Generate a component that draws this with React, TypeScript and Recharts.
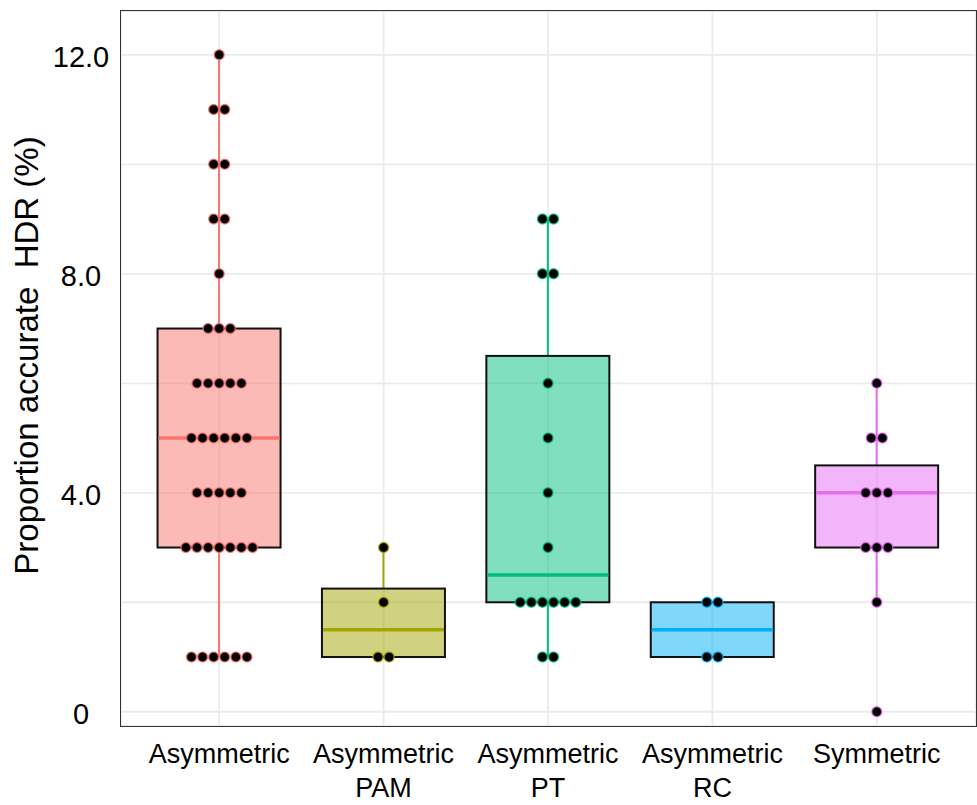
import { ComposedChart, Bar, Scatter, XAxis, YAxis, CartesianGrid } from 'recharts'

const CATEGORIES = ['Asymmetric', 'Asymmetric PAM', 'Asymmetric PT', 'Asymmetric RC', 'Symmetric']
const COLORS = ['#F8766D', '#A3A500', '#00BF7D', '#00B0F6', '#E76BF3']

// box statistics per category
const Q1 = [3, 1, 2, 1, 3]
const MEDIAN = [5, 1.5, 2.5, 1.5, 4]
const Q3 = [7, 2.25, 6.5, 2, 4.5]
const WHISKER_LOW = [1, 1, 1, 1, 2]
const WHISKER_HIGH = [12, 3, 9, 2, 6]

// raw observations (one entry per dot)
const ASYMMETRIC = [
  1, 1, 1, 1, 1, 1,
  3, 3, 3, 3, 3, 3, 3,
  4, 4, 4, 4, 4,
  5, 5, 5, 5, 5, 5,
  6, 6, 6, 6, 6,
  7, 7, 7,
  8, 9, 9, 10, 10, 11, 11, 12,
]
const ASYMMETRIC_PAM = [1, 1, 2, 3]
const ASYMMETRIC_PT = [1, 1, 2, 2, 2, 2, 2, 2, 3, 4, 5, 6, 8, 8, 9, 9]
const ASYMMETRIC_RC = [1, 1, 2, 2]
const SYMMETRIC = [0, 2, 3, 3, 3, 4, 4, 4, 5, 5, 6]
const OBSERVATIONS = [ASYMMETRIC, ASYMMETRIC_PAM, ASYMMETRIC_PT, ASYMMETRIC_RC, SYMMETRIC]

const Y_TICKS = [0, 2, 4, 6, 8, 10, 12]
const Y_LABELLED = [0, 4, 8, 12]

const FONT = '"Liberation Sans", Arial, Helvetica, sans-serif'
const DOT_STEP = 11.1

const boxes = CATEGORIES.map((name, i) => ({
  name,
  lo: WHISKER_LOW[i],
  hi: WHISKER_HIGH[i],
  q1: Q1[i],
  q3: Q3[i],
  median: MEDIAN[i],
  color: COLORS[i],
}))

// stack equal values side by side, centred on the category
const points = OBSERVATIONS.flatMap((vals, i) => {
  const counts = new Map<number, number>()
  vals.forEach((v) => counts.set(v, (counts.get(v) ?? 0) + 1))
  const seen = new Map<number, number>()
  return vals.map((v) => {
    const k = seen.get(v) ?? 0
    seen.set(v, k + 1)
    const n = counts.get(v) as number
    return { name: CATEGORIES[i], value: v, slot: k - (n - 1) / 2, color: COLORS[i] }
  })
})

const BoxShape = (props: any) => {
  const { x, y, width, height, payload } = props
  const { lo, hi, q1, q3, median, color } = payload
  const px = (v: number) => y + ((hi - v) * height) / (hi - lo)
  const cx = x + width / 2
  return (
    <g>
      <line x1={cx} x2={cx} y1={px(hi)} y2={px(q3)} stroke={color} strokeWidth={2} />
      <line x1={cx} x2={cx} y1={px(q1)} y2={px(lo)} stroke={color} strokeWidth={2} />
      <rect
        x={x}
        y={px(q3)}
        width={width}
        height={px(q1) - px(q3)}
        fill={color}
        fillOpacity={0.5}
        stroke="#111"
        strokeWidth={2}
      />
      <line x1={x + 1} x2={x + width - 1} y1={px(median)} y2={px(median)} stroke={color} strokeWidth={3.5} />
    </g>
  )
}

const DotShape = (props: any) => {
  const { cx, cy, payload } = props
  return (
    <circle
      cx={cx + payload.slot * DOT_STEP}
      cy={cy}
      r={5}
      fill="#000"
      stroke={payload.color}
      strokeOpacity={0.75}
      strokeWidth={1.5}
    />
  )
}

const XTick = ({ x, y, payload }: any) => {
  const lines = String(payload.value).split(' ')
  return (
    <text x={x} y={y} textAnchor="middle" fontFamily={FONT} fontSize={27} fill="#000">
      {lines.map((line, i) => (
        <tspan key={i} x={x} dy={i === 0 ? 37 : 34}>
          {line}
        </tspan>
      ))}
    </text>
  )
}

const YTick = ({ x, y, payload }: any) => {
  if (!Y_LABELLED.includes(payload.value)) return null
  return (
    <text x={x - 40} y={y} dy={12} textAnchor="middle" fontFamily={FONT} fontSize={29} fill="#000">
      {payload.value === 0 ? '0' : payload.value.toFixed(1)}
    </text>
  )
}

export default function App() {
  return (
    <div style={{ position: 'absolute', left: 0, top: 0, width: 977, height: 805, background: '#fff' }}>
      <ComposedChart width={977} height={805} data={boxes} margin={{ top: 11, right: 1, bottom: 0, left: 0 }} barCategoryGap="12.5%">
        <CartesianGrid stroke="#ebebeb" strokeWidth={1.8} />
        <XAxis
          dataKey="name"
          type="category"
          allowDuplicatedCategory={false}
          padding={{ left: 16, right: 17 }}
          height={79}
          tickLine={false}
          axisLine={false}
          tickSize={0}
          tickMargin={0}
          interval={0}
          tick={<XTick />}
        />
        <YAxis
          type="number"
          domain={[-0.26, 12.8]}
          ticks={Y_TICKS}
          width={121}
          tickLine={false}
          axisLine={false}
          tickSize={0}
          tickMargin={0}
          tick={<YTick />}
          label={{
            value: 'Proportion accurate\u00a0 HDR (%)',
            angle: -90,
            position: 'center',
            dx: -34,
            dy: -13,
            style: { fontFamily: FONT, fontSize: 33, fill: '#000' },
          }}
        />
        <Bar dataKey={(d: any) => [d.lo, d.hi]} shape={<BoxShape />} isAnimationActive={false} />
        <Scatter data={points} dataKey="value" shape={<DotShape />} isAnimationActive={false} />
      </ComposedChart>
      <div
        style={{
          position: 'absolute',
          left: 120,
          top: 10,
          width: 855,
          height: 715,
          border: '1.5px solid #333',
          pointerEvents: 'none',
        }}
      />
    </div>
  )
}
